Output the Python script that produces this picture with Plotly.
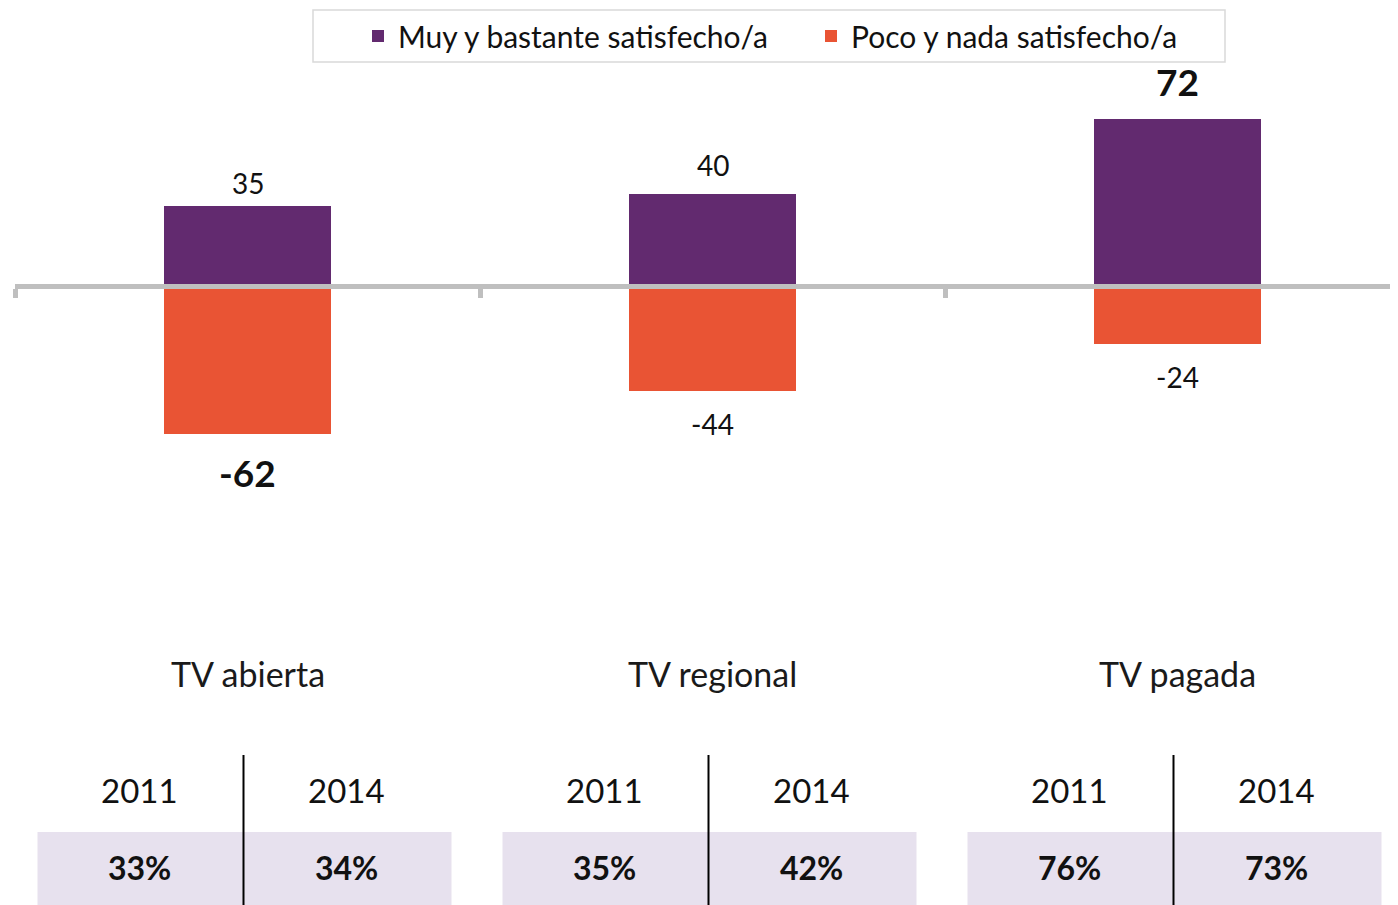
import plotly.graph_objects as go

categories = ["TV abierta", "TV regional", "TV pagada"]
satisfied = [35, 40, 72]
dissatisfied = [-62, -44, -24]
series_names = ["Muy y bastante satisfecho/a", "Poco y nada satisfecho/a"]
years = ["2011", "2014"]
pct_2011 = ["33%", "35%", "76%"]
pct_2014 = ["34%", "42%", "73%"]

PURPLE = "#622A6F"
ORANGE = "#E95434"
BAND = "#E7E1EE"
FONT = "Lato"
TXT = "#111111"

OFF = 8                      # page body margin
W, H = 1398 - OFF, 905 - OFF
ZERO_PX = 288 - OFF
PX_PER_UNIT = 2.35
CAT_PX = 465
LEFT_PX = 15 - OFF

xs = list(range(len(categories)))
max_i = satisfied.index(max(satisfied))
min_i = dissatisfied.index(min(dissatisfied))

# label offsets (style)
pos_shift = [23, 29, 37]
neg_shift = [-39, -33, -33]

fig = go.Figure()
fig.add_trace(go.Bar(x=xs, y=satisfied, name=series_names[0],
                     marker=dict(color=PURPLE, line=dict(width=0)), width=0.36))
fig.add_trace(go.Bar(x=xs, y=dissatisfied, name=series_names[1],
                     marker=dict(color=ORANGE, line=dict(width=0)), width=0.36))

y_top = ZERO_PX / PX_PER_UNIT
y_bot = -(H - ZERO_PX) / PX_PER_UNIT
x_left = -0.5
x_right = -0.5 + (W - LEFT_PX) / CAT_PX

def py(px):
    return 1 - (px - OFF) / H

def px_x(px):
    return 1 - 1 + (px - OFF) / W

shapes = []
annotations = []

for i in xs:
    for vals, shifts, bi in ((satisfied, pos_shift, max_i), (dissatisfied, neg_shift, min_i)):
        v = vals[i]
        bold = i == bi
        annotations.append(dict(x=i, y=v, xref="x", yref="y",
                                text=f"<b>{v}</b>" if bold else f"{v}", showarrow=False,
                                yshift=shifts[i], yanchor="middle",
                                font=dict(size=37 if bold else 28, family=FONT, color=TXT)))

for i, c in enumerate(categories):
    annotations.append(dict(x=i, y=py(673), xref="x", yref="paper", text=c, showarrow=False,
                            font=dict(size=34, family=FONT, color="#1a1a1a"), yanchor="middle"))
    shapes.append(dict(type="rect", xref="x", yref="paper", x0=i - 210 / CAT_PX, x1=i + 204 / CAT_PX,
                       y0=0, y1=py(832), fillcolor=BAND, line=dict(width=0), layer="below"))
    div = i - 4 / CAT_PX
    shapes.append(dict(type="line", xref="x", yref="paper", x0=div, x1=div, y0=0, y1=py(755),
                       line=dict(color="#000000", width=2)))
    for j, (yr, val) in enumerate(zip(years, [pct_2011[i], pct_2014[i]])):
        xc = div - 104 / CAT_PX if j == 0 else div + 103 / CAT_PX
        annotations.append(dict(x=xc, y=py(790), xref="x", yref="paper", text=yr, showarrow=False,
                                font=dict(size=33, family=FONT, color=TXT), yanchor="middle"))
        annotations.append(dict(x=xc, y=py(867), xref="x", yref="paper", text=f"<b>{val}</b>",
                                showarrow=False, font=dict(size=32, family=FONT, color=TXT),
                                yanchor="middle"))

# legend frame
shapes.append(dict(type="rect", xref="paper", yref="paper", x0=px_x(313), x1=px_x(1225),
                   y0=py(62), y1=py(10), line=dict(color="#D9D9D9", width=1.5), fillcolor="white",
                   layer="below"))

fig.update_layout(
    width=W, height=H, margin=dict(l=0, r=0, t=0, b=0),
    paper_bgcolor="white", plot_bgcolor="rgba(0,0,0,0)",
    barmode="relative", bargap=0,
    showlegend=True,
    legend=dict(orientation="h", x=px_x(358), xanchor="left", y=py(36), yanchor="middle",
                borderwidth=0, bgcolor="rgba(0,0,0,0)",
                font=dict(size=30, family=FONT, color=TXT),
                entrywidth=408, itemwidth=30),
    xaxis=dict(domain=[LEFT_PX / W, 1], range=[x_left, x_right], anchor="free",
               position=1 - (ZERO_PX - 2.5) / H, showline=True, linecolor="#BFBFBF", linewidth=5,
               tickmode="array", tickvals=[i - 0.5 for i in xs], ticks="outside", ticklen=9,
               tickwidth=5, tickcolor="#BFBFBF", showticklabels=False, showgrid=False, zeroline=False),
    yaxis=dict(range=[y_bot, y_top], visible=False, showgrid=False, zeroline=False),
    shapes=shapes, annotations=annotations,
)

fig.write_html("out.html")
